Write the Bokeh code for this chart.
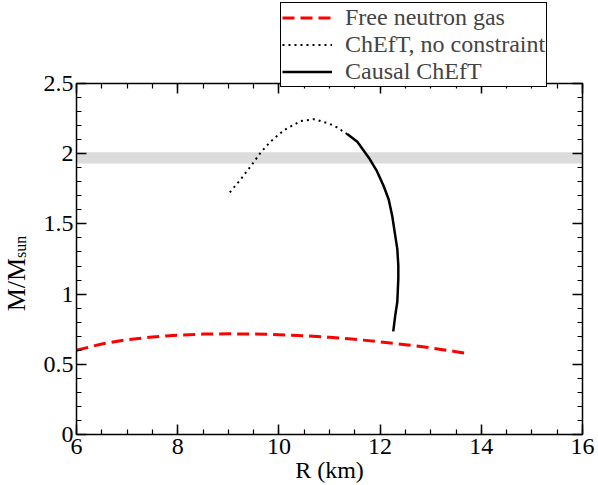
import math
from bokeh.plotting import figure
from bokeh.layouts import column, row
from bokeh.models import (Label, Legend, LegendItem, LinearAxis, SingleIntervalTicker,
                          BoxAnnotation, Range1d)
from bokeh.embed import file_html
from bokeh.resources import INLINE

# ---- data ----
R_free = [6.0, 6.5, 7.0, 7.5, 8.0, 8.5, 9.0, 9.5, 10.0, 10.5, 11.0, 11.5, 12.0, 12.5, 13.0, 13.5, 13.75]
M_free = [0.600, 0.645, 0.675, 0.695, 0.708, 0.715, 0.717, 0.716, 0.711, 0.703, 0.692, 0.678,
          0.660, 0.640, 0.617, 0.590, 0.575]

R_chi = [9.03, 9.24, 9.44, 9.64, 9.83, 10.10, 10.43, 10.69, 10.99, 11.15, 11.35]
M_chi = [1.725, 1.815, 1.909, 2.008, 2.085, 2.168, 2.232, 2.246, 2.215, 2.187, 2.14]

R_causal = [11.35, 11.55, 11.78, 11.94, 12.07, 12.17, 12.24, 12.29, 12.34, 12.36, 12.36, 12.34, 12.30, 12.26]
M_causal = [2.14, 2.085, 1.97, 1.874, 1.77, 1.674, 1.556, 1.438, 1.32, 1.203, 1.11, 0.944, 0.85, 0.735]

band_low, band_high = 1.93, 2.01

series_labels = ["Free neutron gas", "ChEfT, no constraint", "Causal ChEfT"]
y_ticks = [0.0, 0.5, 1.0, 1.5, 2.0, 2.5]
y_tick_labels = ["0", "0.5", "1", "1.5", "2", "2.5"]
x_label = "R (km)"
y_label_main = "M/M"
y_label_sub = "sun"

FONT = "Liberation Serif"
FS = "24px"

red_style = dict(line_color="red", line_width=3, line_dash="12 6")
dot_style = dict(line_color="black", line_width=2, line_dash="2 4")
solid_style = dict(line_color="black", line_width=2.5)

LEFT_W = 40
W, H = 598, 485
LEG_H = 88

# ---------------- main plot ----------------
p = figure(width=W - LEFT_W, height=H, x_range=Range1d(6, 16), y_range=Range1d(0, 2.5),
           output_backend="svg", toolbar_location=None,
           min_border_left=76 - LEFT_W, min_border_right=16, min_border_top=83, min_border_bottom=48)
p.xgrid.visible = False
p.ygrid.visible = False
p.outline_line_color = None
p.background_fill_color = "white"
p.border_fill_color = "white"

p.add_layout(BoxAnnotation(bottom=band_low, top=band_high, fill_color="#dcdcdc", fill_alpha=1.0,
                           line_color=None, level="underlay"))

p.line(R_free, M_free, **red_style)
p.line(R_chi, M_chi, **dot_style)
p.line(R_causal, M_causal, **solid_style)

xt = SingleIntervalTicker(interval=2, num_minor_ticks=4)
yt = SingleIntervalTicker(interval=0.5, num_minor_ticks=5)

def style(ax, show_labels=True):
    ax.axis_line_width = 1.5
    ax.axis_line_color = "black"
    ax.major_tick_line_width = 1.5
    ax.minor_tick_line_width = 1.2
    ax.major_tick_in = 10
    ax.major_tick_out = 0
    ax.minor_tick_in = 5
    ax.minor_tick_out = 0
    ax.major_label_text_font = FONT
    if show_labels:
        ax.major_label_text_font_size = FS
        ax.major_label_text_color = "black"
    else:
        ax.major_label_text_font_size = "0px"
        ax.major_label_text_color = None
        ax.major_label_standoff = 0

p.xaxis.ticker = xt
p.yaxis.ticker = yt
style(p.xaxis[0])
style(p.yaxis[0])
p.xaxis.major_label_standoff = 4
p.yaxis.major_label_standoff = 3
p.yaxis.major_label_overrides = dict(zip(y_ticks, y_tick_labels))

p.xaxis.axis_label = x_label
p.xaxis.axis_label_text_font = FONT
p.xaxis.axis_label_text_font_size = FS
p.xaxis.axis_label_text_font_style = "normal"
p.xaxis.axis_label_text_color = "black"
p.xaxis.axis_label_standoff = 0

top = LinearAxis(ticker=xt)
right = LinearAxis(ticker=yt)
style(top, False)
style(right, False)
p.add_layout(top, "above")
p.add_layout(right, "right")

# ---------------- y-axis title strip (left of the plot) ----------------
yl = figure(width=LEFT_W, height=H, x_range=Range1d(0, LEFT_W), y_range=Range1d(0, H),
            output_backend="svg", toolbar_location=None, min_border=0,
            x_axis_location=None, y_axis_location=None)
yl.xgrid.visible = False
yl.ygrid.visible = False
yl.outline_line_color = None
# "M/M" ends where the subscript "sun" begins (rotated, reading upwards)
yl.add_layout(Label(x=16, y=H - 241, text=y_label_main,
                    angle=math.pi / 2, text_align="right", text_baseline="alphabetic",
                    text_font=FONT, text_font_size="26px", text_color="black"))
yl.add_layout(Label(x=19.5, y=H - 241, text=y_label_sub,
                    angle=math.pi / 2, text_align="left", text_baseline="alphabetic",
                    text_font=FONT, text_font_size="16px", text_color="black"))

# ---------------- legend overlay (transparent strip over the top of the plot) ----------------
lg = figure(width=W, height=LEG_H, x_range=Range1d(1000, 1000 + W), y_range=Range1d(0, LEG_H),
            output_backend="svg", toolbar_location=None, min_border=0,
            x_axis_location=None, y_axis_location=None,
            margin=(-H, 0, 0, 0))
lg.xgrid.visible = False
lg.ygrid.visible = False
lg.outline_line_color = None
lg.background_fill_color = None
lg.border_fill_color = None
# legend samples reuse the data, drawn off-range so only the legend shows them
lr1 = lg.line(R_free, M_free, **red_style)
lr2 = lg.line(R_chi, M_chi, **dot_style)
lr3 = lg.line(R_causal, M_causal, **solid_style)
legend = Legend(items=[LegendItem(label=series_labels[0], renderers=[lr1]),
                       LegendItem(label=series_labels[1], renderers=[lr2]),
                       LegendItem(label=series_labels[2], renderers=[lr3])],
                location=(280, LEG_H - 87), border_line_color="black", border_line_width=1,
                border_line_alpha=1.0,
                background_fill_color="white", background_fill_alpha=1.0,
                label_text_font=FONT, label_text_font_size=FS,
                glyph_width=50, glyph_height=25, label_height=25, label_standoff=13,
                padding=1, spacing=0, margin=0)
lg.add_layout(legend)

layout = column(row(yl, p, spacing=0), lg, spacing=0)
open("out.html", "w").write(file_html(layout, INLINE))
